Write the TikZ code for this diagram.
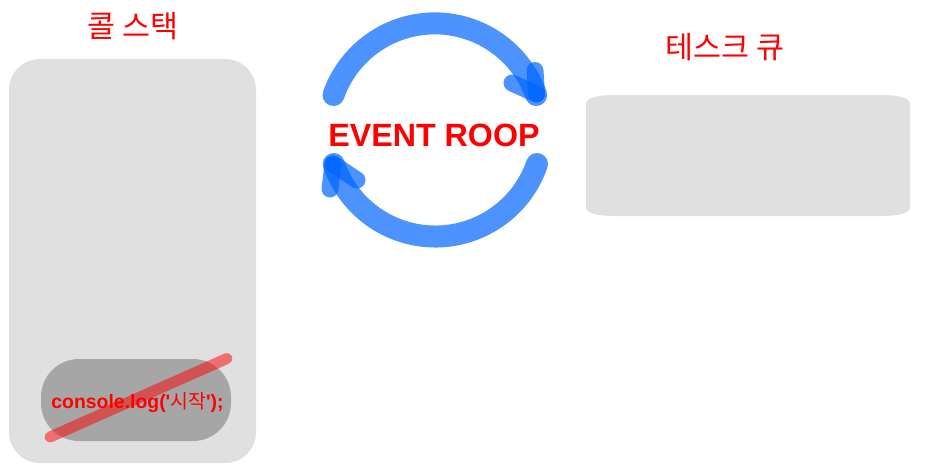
\documentclass[tikz,border=0pt]{standalone}
\usepackage{fontspec}
\newfontfamily\arialfont{Liberation Sans}
\newfontfamily\krfont{Noto Sans CJK KR}
\definecolor{panelgray}{HTML}{E0E0E0}
\definecolor{itemgray}{HTML}{A6A6A6}
\definecolor{loopblue}{HTML}{0066FF}
\tikzset{
  loopstroke/.style={draw=loopblue,draw opacity=.7,line cap=round,line join=round},
  looparc/.style={loopstroke,line width=22pt},
  loopbarb/.style={loopstroke,line width=17pt},
  title/.style={text=red,inner sep=0pt,font=\fontsize{30.4}{33}\selectfont\krfont},
  looptext/.style={text=red,inner sep=0pt,font=\fontsize{32.2}{35}\selectfont\arialfont\bfseries},
  calltext/.style={text=red,inner sep=0pt,font=\fontsize{19.4}{22}\selectfont\arialfont\bfseries},
}
\begin{document}
\begin{tikzpicture}[x=1pt,y=-1pt]
\useasboundingbox (0,0) rectangle (938,464);
\fill[white] (0,0) rectangle (938,464);
% call stack panel
\fill[panelgray,rounded corners=31pt] (9,59) rectangle (256,463);
% task queue panel
\fill[panelgray] (616,95) -- (880,95) .. controls (900,95) and (910,98) .. (910,104)
  -- (910,207) .. controls (910,213) and (900,216) .. (880,216)
  -- (616,216) .. controls (596,216) and (586,213) .. (586,207)
  -- (586,104) .. controls (586,98) and (596,95) .. (616,95) -- cycle;
% call item
\fill[itemgray,rounded corners=38pt] (41,359) rectangle (231,441);
\node[calltext] (call) at (137.5,402.5) {console.log('{\krfont\mdseries 시작}');};
\coordinate (xa) at (50,437);
\coordinate (xb) at (227,358.5);
\draw[draw=red,draw opacity=.5,line width=11pt,line cap=round] (xa) -- (xb);
% titles
\node[title] (stack) at (133,26) {콜 스택};
\node[title] (queue) at (725,47) {테스크 큐};
\node[looptext] (loop) at (434,135) {EVENT ROOP};
% top arrow
\coordinate (ta) at (333.5,95);
\coordinate (tt) at (536.5,94);
\coordinate (tb1) at (535,70.5);
\coordinate (tb2) at (512,83);
\draw[looparc] (ta) arc[start angle=160.5,end angle=19.5,radius=107.5pt];
\draw[loopbarb] (tb1) -- (tt);
\draw[loopbarb] (tb2) -- (tt);
% bottom arrow
\coordinate (ba) at (537,164);
\coordinate (bt) at (333,164);
\coordinate (bb1) at (330,189);
\coordinate (bb2) at (357,180);
\draw[looparc] (ba) arc[start angle=-19,end angle=-161,radius=107.5pt];
\draw[loopbarb] (bb1) -- (bt);
\draw[loopbarb] (bb2) -- (bt);
\end{tikzpicture}
\end{document}
